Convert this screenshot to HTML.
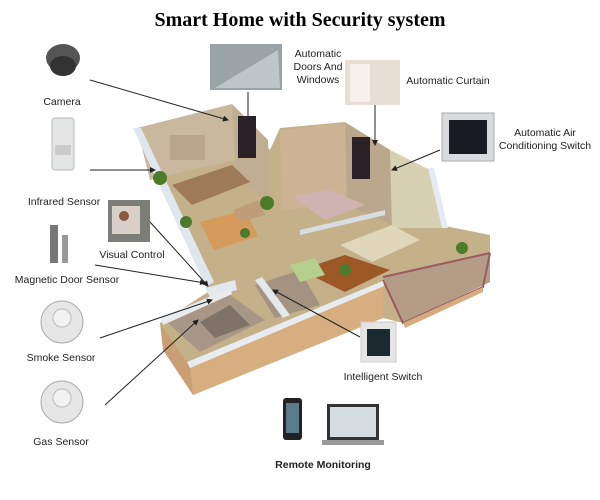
<!DOCTYPE html>
<html><head><meta charset="utf-8"><style>
html,body{margin:0;padding:0;background:#fff;}
svg{display:block}
text{font-family:"Liberation Sans",sans-serif;font-size:10.5px;fill:#222}
</style></head><body>
<svg width="600" height="500" viewBox="0 0 600 500" xmlns="http://www.w3.org/2000/svg">
<defs><marker id="a" markerWidth="6" markerHeight="6" refX="5" refY="3" orient="auto" markerUnits="userSpaceOnUse"><path d="M0,0 L6,3 L0,6 z" fill="#222"/></marker></defs>
<rect width="600" height="500" fill="#fff"/>
<text x="300" y="26" text-anchor="middle" style="font-family:'Liberation Serif',serif;font-weight:bold;font-size:20px;fill:#000">Smart Home with Security system</text>

<polygon points="140,135 235,108 270,150 280,128 345,122 390,150 440,225 490,235 490,282 403,323 383,318 193,395 160,323 208,292" fill="#c4b089"/>
<polygon points="137,128 232,104 236,160 190,170 150,180" fill="#c9b89e"/>
<polygon points="232,104 268,140 270,205 236,175" fill="#c0ae93"/>
<polygon points="280,130 345,123 347,205 282,210" fill="#cbb393"/>
<polygon points="345,123 390,150 392,225 347,205" fill="#bba88c"/>
<polygon points="390,150 430,170 445,228 392,228" fill="#d7d0b3"/>
<polygon points="428,168 434,168 448,228 442,228" fill="#e5ebf0"/>
<rect x="238" y="116" width="18" height="42" fill="#2a2226"/>
<rect x="352" y="137" width="18" height="42" fill="#2a2226"/>
<rect x="170" y="135" width="35" height="25" fill="#b9a68a"/>
<polygon points="133,128 141,128 214,282 206,287" fill="#dfe6ee"/>
<polygon points="172,185 232,165 250,182 192,205" fill="#9f7a58"/>
<polygon points="200,222 245,210 258,236 214,250" fill="#d69a5c"/>
<polygon points="233,210 258,200 265,215 240,222" fill="#c09c78"/>
<polygon points="292,196 330,190 365,205 325,220" fill="#cfb3b1"/>
<polygon points="300,230 385,210 385,215 300,235" fill="#d8dde2"/>
<polygon points="340,245 392,225 420,240 372,262" fill="#e0d7bb"/>
<polygon points="300,270 345,255 390,270 345,292" fill="#9d5828"/>
<polygon points="168,323 230,295 265,320 200,352" fill="#a89686"/>
<polygon points="200,322 230,305 250,325 215,338" fill="#7f7267"/>
<polygon points="255,285 300,270 320,305 275,318" fill="#a49381"/>
<polygon points="290,265 315,258 325,275 300,282" fill="#b5d08d"/>
<polygon points="255,280 262,277 290,315 283,318" fill="#e3e8ec"/>
<polygon points="205,288 235,280 237,290 210,297" fill="#e3e8ec"/>
<polygon points="383,277 490,253 490,282 403,323" fill="#b49c87"/>
<polyline points="383,277 490,253" fill="none" stroke="#9a5b5f" stroke-width="2"/>
<polyline points="383,280 403,323 483,287 490,253" fill="none" stroke="#9a5b5f" stroke-width="2"/>
<polygon points="403,323 483,287 483,292 405,328" fill="#d4ac7f"/>
<polygon points="160,323 190,367 193,395 163,350" fill="#c99f73"/>
<polygon points="160,318 230,288 232,294 163,325" fill="#e8ecef"/>
<polygon points="190,367 383,285 383,318 193,395" fill="#d7ae80"/>
<polygon points="187,362 383,281 384,286 190,368" fill="#e8ecef"/>
<circle cx="160" cy="178" r="7" fill="#4d7b2c"/>
<circle cx="267" cy="203" r="7" fill="#4d7b2c"/>
<circle cx="345" cy="270" r="6" fill="#4d7b2c"/>
<circle cx="186" cy="222" r="6" fill="#4d7b2c"/>
<circle cx="245" cy="233" r="5" fill="#4d7b2c"/>
<circle cx="462" cy="248" r="6" fill="#4d7b2c"/>

<g stroke="#222" stroke-width="1" fill="none" marker-end="url(#a)">
<line x1="90" y1="80" x2="228" y2="120"/>
<line x1="90" y1="170" x2="155" y2="170"/>
<line x1="150" y1="222" x2="208" y2="286"/>
<line x1="95" y1="265" x2="205" y2="283"/>
<line x1="100" y1="338" x2="212" y2="300"/>
<line x1="105" y1="405" x2="198" y2="320"/>
<line x1="248" y1="92" x2="248" y2="125"/>
<line x1="375" y1="105" x2="375" y2="145"/>
<line x1="440" y1="150" x2="392" y2="170"/>
<line x1="360" y1="337" x2="273" y2="290"/>
</g>

<ellipse cx="63" cy="58" rx="17" ry="14" fill="#555"/>
<ellipse cx="63" cy="66" rx="13" ry="10" fill="#333"/>
<rect x="52" y="118" width="22" height="52" rx="3" fill="#e4e6e6" stroke="#bbb"/>
<rect x="55" y="145" width="16" height="10" fill="#c9cccb"/>
<rect x="108" y="200" width="42" height="42" fill="#7b7d78"/>
<rect x="112" y="206" width="28" height="28" fill="#d8d0c8"/>
<circle cx="124" cy="216" r="5" fill="#8a5a3e"/>
<rect x="50" y="225" width="8" height="38" fill="#777"/>
<rect x="62" y="235" width="6" height="28" fill="#999"/>
<circle cx="62" cy="322" r="21" fill="#e6e6e6" stroke="#aaa"/>
<circle cx="62" cy="318" r="9" fill="#f2f2f2" stroke="#bbb"/>
<circle cx="62" cy="402" r="21" fill="#e6e6e6" stroke="#aaa"/>
<circle cx="62" cy="398" r="9" fill="#f2f2f2" stroke="#bbb"/>
<rect x="210" y="44" width="72" height="46" fill="#9aa3a6"/>
<polygon points="215,88 278,50 280,88" fill="#bfc6c9"/>
<rect x="345" y="60" width="55" height="45" fill="#e7dfd3"/>
<rect x="350" y="64" width="20" height="38" fill="#f5f1ea"/>
<rect x="442" y="113" width="52" height="48" fill="#d8dbdd" stroke="#aaa"/>
<rect x="449" y="120" width="38" height="34" fill="#1a1a22"/>
<rect x="361" y="322" width="35" height="40" fill="#e5e5e5" stroke="#ccc"/>
<rect x="367" y="329" width="23" height="27" fill="#1a2a30"/>
<rect x="283" y="398" width="19" height="42" rx="3" fill="#222"/>
<rect x="286" y="403" width="13" height="30" fill="#5b7a8a"/>
<rect x="327" y="404" width="52" height="36" fill="#333"/>
<rect x="330" y="407" width="46" height="30" fill="#d6dde0"/>
<rect x="322" y="440" width="62" height="5" fill="#999"/>

<text x="62" y="105" text-anchor="middle">Camera</text>
<text x="64" y="205" text-anchor="middle">Infrared Sensor</text>
<text x="132" y="258" text-anchor="middle">Visual Control</text>
<text x="67" y="283" text-anchor="middle">Magnetic Door Sensor</text>
<text x="61" y="361" text-anchor="middle">Smoke Sensor</text>
<text x="61" y="445" text-anchor="middle">Gas Sensor</text>
<text x="318" y="57" text-anchor="middle">Automatic</text>
<text x="318" y="70" text-anchor="middle">Doors And</text>
<text x="318" y="83" text-anchor="middle">Windows</text>
<text x="448" y="84" text-anchor="middle">Automatic Curtain</text>
<text x="545" y="136" text-anchor="middle">Automatic Air</text>
<text x="545" y="149" text-anchor="middle">Conditioning Switch</text>
<text x="383" y="380" text-anchor="middle">Intelligent Switch</text>
<text x="323" y="468" text-anchor="middle" style="font-weight:bold">Remote Monitoring</text>
</svg>
</body></html>
